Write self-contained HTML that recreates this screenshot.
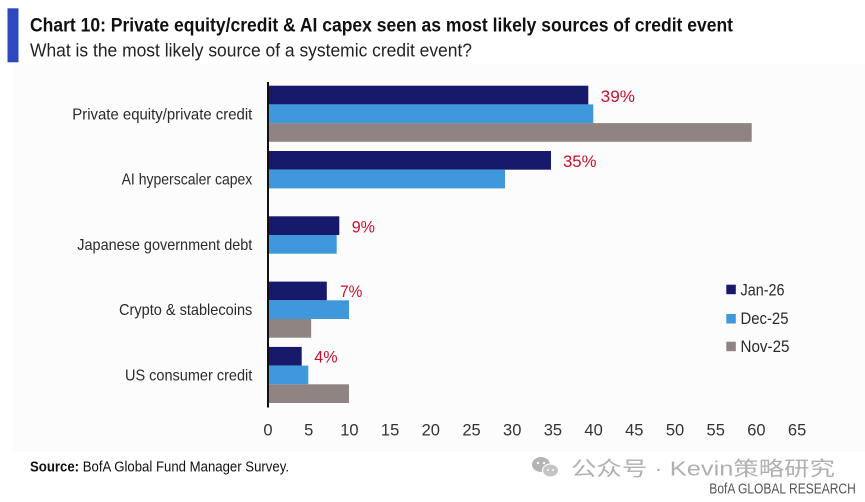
<!DOCTYPE html>
<html>
<head>
<meta charset="utf-8">
<style>
  html, body { margin: 0; padding: 0; background: #ffffff; }
  body { width: 865px; height: 502px; overflow: hidden; }
  svg { display: block; }
  text { font-family: "Liberation Sans", "Noto Sans CJK SC", sans-serif; }
</style>
</head>
<body>
<svg width="865" height="502" viewBox="0 0 865 502" xmlns="http://www.w3.org/2000/svg">
  <rect x="0" y="0" width="865" height="502" fill="#ffffff"/>
  <!-- faint chart panel -->
  <rect x="13" y="64" width="852" height="388" fill="#fcfcfc"/>

  <!-- title block -->
  <rect x="7.5" y="8.3" width="11" height="54" fill="#2f47bf"/>
  <text x="30" y="31.7" font-size="19" font-weight="bold" fill="#111" textLength="703" lengthAdjust="spacingAndGlyphs">Chart 10: Private equity/credit &amp; AI capex seen as most likely sources of credit event</text>
  <text x="30" y="56.7" font-size="18.5" fill="#222" textLength="442" lengthAdjust="spacingAndGlyphs">What is the most likely source of a systemic credit event?</text>

  <!-- category labels -->
  <g font-size="16" fill="#2a2a2a" text-anchor="end">
    <text x="252.3" y="119.3" textLength="180" lengthAdjust="spacingAndGlyphs">Private equity/private credit</text>
    <text x="252.3" y="184.6" textLength="130.7" lengthAdjust="spacingAndGlyphs">AI hyperscaler capex</text>
    <text x="252.3" y="249.9" textLength="175" lengthAdjust="spacingAndGlyphs">Japanese government debt</text>
    <text x="252.3" y="315.2" textLength="133.3" lengthAdjust="spacingAndGlyphs">Crypto &amp; stablecoins</text>
    <text x="252.3" y="380.5" textLength="127.3" lengthAdjust="spacingAndGlyphs">US consumer credit</text>
  </g>

  <!-- bars -->
  <g>
    <rect x="269" y="85.7" width="319.3" height="18.7" fill="#17196a"/>
    <rect x="269" y="104.4" width="324.3" height="18.7" fill="#3f98dc"/>
    <rect x="269" y="123.1" width="482.7" height="18.7" fill="#8f8482"/>
    <rect x="269" y="151" width="282" height="18.7" fill="#17196a"/>
    <rect x="269" y="169.7" width="236" height="18.7" fill="#3f98dc"/>
    <rect x="269" y="216.3" width="70.3" height="18.7" fill="#17196a"/>
    <rect x="269" y="235" width="67.7" height="18.7" fill="#3f98dc"/>
    <rect x="269" y="281.6" width="57.8" height="18.7" fill="#17196a"/>
    <rect x="269" y="300.3" width="80" height="18.7" fill="#3f98dc"/>
    <rect x="269" y="319" width="42.2" height="18.7" fill="#8f8482"/>
    <rect x="269" y="346.9" width="32.7" height="18.7" fill="#17196a"/>
    <rect x="269" y="365.6" width="39.3" height="18.7" fill="#3f98dc"/>
    <rect x="269" y="384.3" width="80" height="18.7" fill="#8f8482"/>
  </g>

  <!-- axis line -->
  <rect x="267" y="82" width="2" height="325.5" fill="#111"/>

  <!-- percent labels -->
  <g font-size="17" fill="#c8102e">
    <text x="600.7" y="101.8" textLength="34.3" lengthAdjust="spacingAndGlyphs">39%</text>
    <text x="563" y="167" textLength="33.5" lengthAdjust="spacingAndGlyphs">35%</text>
    <text x="351.7" y="232.3" textLength="23.3" lengthAdjust="spacingAndGlyphs">9%</text>
    <text x="340" y="297" textLength="22.3" lengthAdjust="spacingAndGlyphs">7%</text>
    <text x="314.3" y="362.6" textLength="23.3" lengthAdjust="spacingAndGlyphs">4%</text>
  </g>

  <!-- x tick labels -->
  <g font-size="16.5" fill="#333" text-anchor="middle">
    <text x="268" y="435.7">0</text>
    <text x="308.7" y="435.7">5</text>
    <text x="349.4" y="435.7">10</text>
    <text x="390.1" y="435.7">15</text>
    <text x="430.8" y="435.7">20</text>
    <text x="471.5" y="435.7">25</text>
    <text x="512.2" y="435.7">30</text>
    <text x="552.9" y="435.7">35</text>
    <text x="593.6" y="435.7">40</text>
    <text x="634.3" y="435.7">45</text>
    <text x="675" y="435.7">50</text>
    <text x="715.7" y="435.7">55</text>
    <text x="756.4" y="435.7">60</text>
    <text x="797.1" y="435.7">65</text>
  </g>

  <!-- legend -->
  <rect x="726.3" y="284.7" width="9.5" height="9.5" fill="#17196a"/>
  <rect x="726.3" y="314" width="9.5" height="9.5" fill="#3f98dc"/>
  <rect x="726.3" y="341.7" width="9.5" height="9.5" fill="#8f8482"/>
  <g font-size="17" fill="#2a2a2a">
    <text x="740.5" y="295.3" textLength="44" lengthAdjust="spacingAndGlyphs">Jan-26</text>
    <text x="740.5" y="324" textLength="48" lengthAdjust="spacingAndGlyphs">Dec-25</text>
    <text x="740.5" y="352" textLength="49" lengthAdjust="spacingAndGlyphs">Nov-25</text>
  </g>

  <!-- source -->
  <text x="30" y="471.7" font-size="14.5" fill="#111" textLength="259" lengthAdjust="spacingAndGlyphs"><tspan font-weight="bold">Source:</tspan> BofA Global Fund Manager Survey.</text>

  <!-- watermark -->
  <g fill="#b4b4b4">
    <ellipse cx="541" cy="464.5" rx="9" ry="7.5"/>
    <ellipse cx="550.5" cy="470.5" rx="8" ry="6.5" fill="#c4c4c4" stroke="#fcfcfc" stroke-width="1.2"/>
    <circle cx="538" cy="463" r="1.2" fill="#fcfcfc"/>
    <circle cx="544" cy="463" r="1.2" fill="#fcfcfc"/>
    <circle cx="548" cy="470" r="1" fill="#fcfcfc"/>
    <circle cx="553" cy="470" r="1" fill="#fcfcfc"/>
  </g>
  <text x="571" y="475.5" font-size="20" fill="#b0b0b0" textLength="264" lengthAdjust="spacingAndGlyphs" font-family="'Liberation Sans','Noto Sans CJK SC',sans-serif">公众号 · Kevin策略研究</text>
  <text x="709.3" y="493.5" font-size="15" fill="#555" textLength="146.5" lengthAdjust="spacingAndGlyphs">BofA GLOBAL RESEARCH</text>
</svg>
</body>
</html>
